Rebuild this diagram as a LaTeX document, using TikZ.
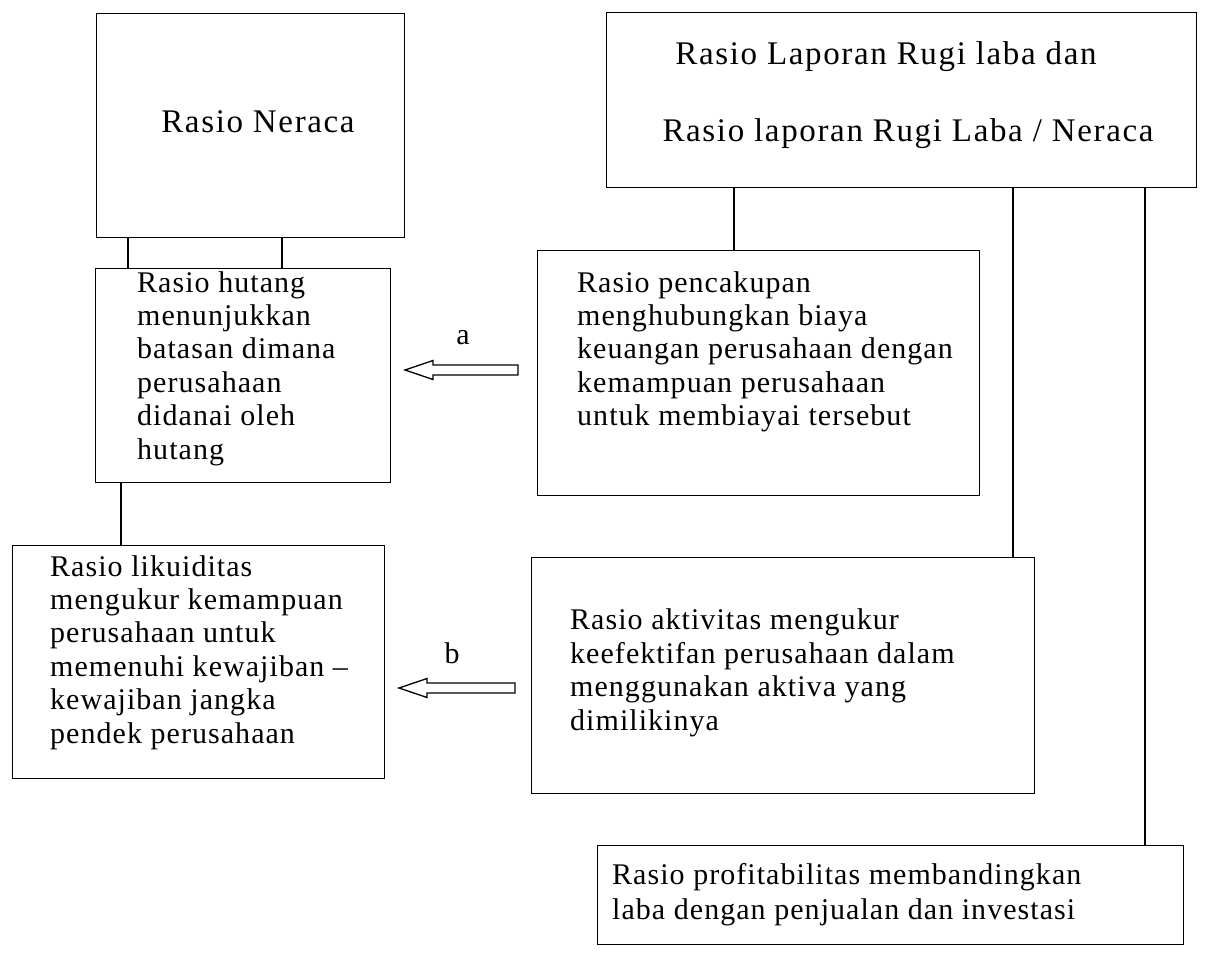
\documentclass[tikz,border=0pt]{standalone}
\usepackage{fontspec}
\setmainfont{Liberation Serif}
\begin{document}
\begin{tikzpicture}[x=1pt,y=-1pt,
  box/.style={draw,line width=1.4pt,inner sep=0pt},
  txt/.style={inner sep=0pt,align=left,font=\fontsize{30}{33.4}\selectfont\addfontfeature{LetterSpace=3.5}},
  ctxt/.style={inner sep=0pt,font=\fontsize{33}{33.4}\selectfont\addfontfeature{LetterSpace=5}},
  ltxt/.style={inner sep=0pt,font=\fontsize{30}{33.4}\selectfont},
  conn/.style={line width=1.2pt},
  hollow/.style={draw,line width=1.3pt,fill=white,line join=miter}]
\useasboundingbox (0,0) rectangle (1211,977);
% boxes
\node[box,minimum width=308pt,minimum height=224pt,anchor=north west] (N) at (96,13) {};
\node[box,minimum width=590pt,minimum height=175pt,anchor=north west] (L) at (606,12) {};
\node[box,minimum width=295pt,minimum height=214pt,anchor=north west] (H) at (95,268) {};
\node[box,minimum width=442pt,minimum height=245pt,anchor=north west] (P) at (537,250) {};
\node[box,minimum width=372pt,minimum height=233pt,anchor=north west] (K) at (12,545) {};
\node[box,minimum width=503pt,minimum height=236pt,anchor=north west] (A) at (531,557) {};
\node[box,minimum width=586pt,minimum height=99pt,anchor=north west] (R) at (597,845) {};
% texts
\node[ctxt,anchor=base] (Nt) at (258,132) {Rasio Neraca};
\node[ctxt,anchor=base] (Lt1) at (886,64) {Rasio Laporan Rugi laba dan};
\node[ctxt,anchor=base] (Lt2) at (908,141) {Rasio laporan Rugi Laba / Neraca};
\node[txt,anchor=base west] (Ht) at (137,459) {Rasio hutang\\menunjukkan\\batasan dimana\\perusahaan\\didanai oleh\\hutang};
\node[txt,anchor=base west] (Pt) at (577,425.6) {Rasio pencakupan\\menghubungkan biaya\\keuangan perusahaan dengan\\kemampuan perusahaan\\untuk membiayai tersebut};
\node[txt,anchor=base west] (Kt) at (50,743) {Rasio likuiditas\\mengukur kemampuan\\perusahaan untuk\\memenuhi kewajiban --\\kewajiban jangka\\pendek perusahaan};
\node[txt,anchor=base west] (At) at (570,730) {Rasio aktivitas mengukur\\keefektifan perusahaan dalam\\menggunakan aktiva yang\\dimilikinya};
\node[txt,anchor=base west,font=\fontsize{30}{35}\selectfont\addfontfeature{LetterSpace=3.5}] (Rt) at (612,919) {Rasio profitabilitas membandingkan\\laba dengan penjualan dan investasi};
% connectors
\draw[conn] (128,0 |- N.south) -- (128,0 |- H.north);
\draw[conn] (282,0 |- N.south) -- (282,0 |- H.north);
\draw[conn] (121,0 |- H.south) -- (121,0 |- K.north);
\draw[conn] (734,0 |- L.south) -- (734,0 |- P.north);
\draw[conn] (1013,0 |- L.south) -- (1013,0 |- A.north);
\draw[conn] (1145,0 |- L.south) -- (1145,0 |- R.north);
% hollow arrows
\coordinate (atail) at (518,370);
\coordinate (btail) at (515,688);
\draw[hollow] (atail) ++(0,-5) -- ++(-85,0) -- ++(0,-4.5) -- ++(-28,9.5) -- ++(28,9.5) -- ++(0,-4.5) -- ++(85,0) -- cycle;
\draw[hollow] (btail) ++(0,-5) -- ++(-88,0) -- ++(0,-4.5) -- ++(-28,9.5) -- ++(28,9.5) -- ++(0,-4.5) -- ++(88,0) -- cycle;
\node[ltxt] (la) at (463,338) {a};
\node[ltxt] (lb) at (452,653) {b};
\end{tikzpicture}
\end{document}
